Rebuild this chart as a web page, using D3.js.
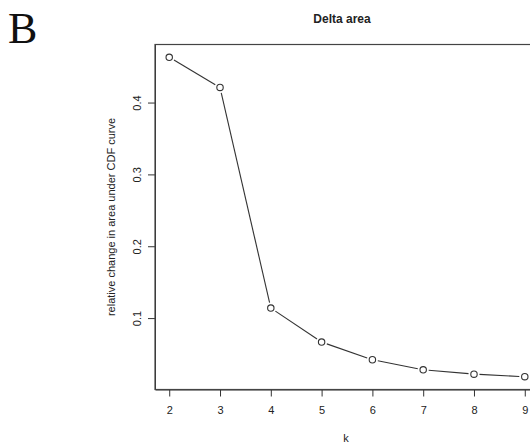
<!DOCTYPE html>
<html>
<head>
<meta charset="utf-8">
<script src="https://cdn.jsdelivr.net/npm/d3@7"></script>
<style>
  body { margin: 0; background: #fff; }
  svg { display: block; font-family: "Liberation Sans", Arial, sans-serif; }
  .axis text { font-size: 11px; fill: #222; }
  .axis line, .axis path { stroke: #333; }
</style>
</head>
<body>
<div id="chart"></div>
<script>
// delta area per k (consensus clustering)
var ks = [2, 3, 4, 5, 6, 7, 8, 9];
var deltaArea = [0.463, 0.421, 0.114, 0.0666, 0.042, 0.028, 0.022, 0.0184];
var yTicks = [0.1, 0.2, 0.3, 0.4];

var width = 530, height = 444;
var box = {left: 155, right: 539, top: 44.5, bottom: 389.5};

var svg = d3.select("#chart")
  .append("svg")
    .attr("width", width)
    .attr("height", height);

// R style 4% padding on both axes
var xScale = d3.scaleLinear()
    .domain([1.72, 9.28])
    .range([box.left, box.right]);

var yScale = d3.scaleLinear()
    .domain([0.0006, 0.4808])
    .range([box.bottom, box.top]);

// panel letter
svg.append("text")
    .attr("x", 8)
    .attr("y", 43)
    .attr("font-family", "'Liberation Serif', 'Times New Roman', serif")
    .attr("font-size", 44)
    .attr("fill", "#111")
    .text("B");

// title
svg.append("text")
    .attr("x", 342)
    .attr("y", 23)
    .attr("text-anchor", "middle")
    .attr("font-size", 12)
    .attr("font-weight", "bold")
    .attr("fill", "#222")
    .text("Delta area");

// x axis
var xAxis = svg.append("g")
    .attr("class", "axis")
    .attr("transform", "translate(0," + box.bottom + ")")
    .call(d3.axisBottom(xScale).tickValues(ks).tickSize(7).tickSizeOuter(0).tickFormat(d3.format("d")));
xAxis.selectAll("text").attr("y", 24.5).attr("dy", 0);

// y axis, labels rotated like R's las=0
var yAxis = svg.append("g")
    .attr("class", "axis")
    .attr("transform", "translate(" + box.left + ",0)")
    .call(d3.axisLeft(yScale).tickValues(yTicks).tickSize(7).tickSizeOuter(0).tickFormat(d3.format(".1f")));
yAxis.selectAll("text")
    .attr("transform", "rotate(-90)")
    .attr("x", 0)
    .attr("y", -14)
    .attr("dy", 0)
    .attr("text-anchor", "middle");

// plot box
svg.append("rect")
    .attr("x", box.left)
    .attr("y", box.top)
    .attr("width", box.right - box.left)
    .attr("height", box.bottom - box.top)
    .attr("fill", "none")
    .attr("stroke", "#444")
    .attr("stroke-width", 1.2);

// axis titles
svg.append("text")
    .attr("x", 346)
    .attr("y", 441.5)
    .attr("text-anchor", "middle")
    .attr("font-size", 11)
    .attr("fill", "#222")
    .text("k");

svg.append("text")
    .attr("transform", "translate(115," + (box.top + box.bottom) / 2 + ")rotate(-90)")
    .attr("text-anchor", "middle")
    .attr("font-size", 11)
    .attr("fill", "#222")
    .text("relative change in area under CDF curve");

// type="b": segments stop short of the points
var pts = ks.map(function(k, i) { return [xScale(k), yScale(deltaArea[i])]; });
var gap = 5.5;
var segs = d3.pairs(pts).map(function(p) {
  var dx = p[1][0] - p[0][0], dy = p[1][1] - p[0][1];
  var len = Math.sqrt(dx * dx + dy * dy);
  var ux = dx / len, uy = dy / len;
  return [p[0][0] + ux * gap, p[0][1] + uy * gap, p[1][0] - ux * gap, p[1][1] - uy * gap];
});

svg.append("g")
  .selectAll("line")
  .data(segs)
  .enter()
  .append("line")
    .attr("x1", function(d) { return d[0]; })
    .attr("y1", function(d) { return d[1]; })
    .attr("x2", function(d) { return d[2]; })
    .attr("y2", function(d) { return d[3]; })
    .attr("stroke", "#333")
    .attr("stroke-width", 1.1);

svg.append("g")
  .selectAll("circle")
  .data(pts)
  .enter()
  .append("circle")
    .attr("cx", function(d) { return d[0]; })
    .attr("cy", function(d) { return d[1]; })
    .attr("r", 3.2)
    .attr("fill", "none")
    .attr("stroke", "#333")
    .attr("stroke-width", 1.1);
</script>
</body>
</html>
